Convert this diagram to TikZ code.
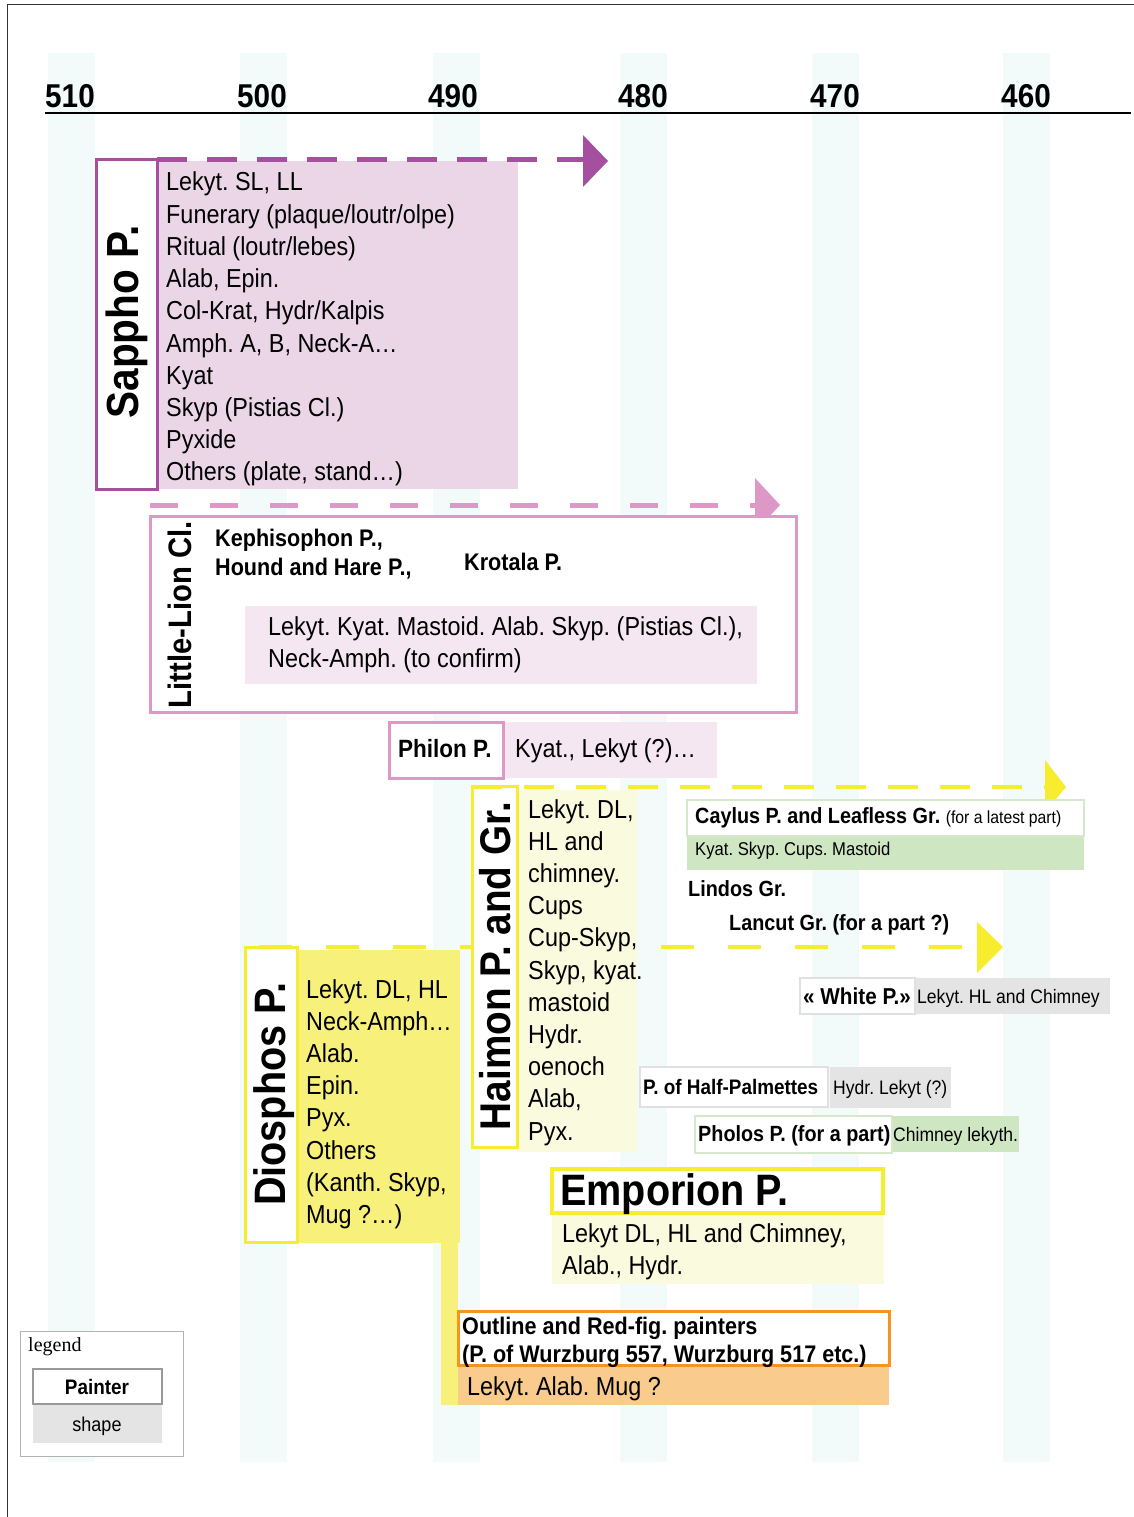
\documentclass[tikz,border=0pt]{standalone}
\usepackage{fontspec}
\setmainfont{Liberation Sans}
\newfontfamily\nar[FakeStretch=0.9]{Liberation Sans}
\newfontfamily\serifleg{Liberation Serif}
\newcommand\setfs[1]{\fontsize{#1}{#1}\selectfont}
\frenchspacing
\definecolor{stripe}{HTML}{F3FAFA}
\definecolor{purp}{HTML}{A54F9F}
\definecolor{pinkfill}{HTML}{EBD6E8}
\definecolor{pinkl}{HTML}{DE98C7}
\definecolor{pinklight}{HTML}{F4E7F1}
\definecolor{yel}{HTML}{F7EC2E}
\definecolor{yelfill}{HTML}{F7F07B}
\definecolor{yellight}{HTML}{FAFADF}
\definecolor{grnl}{HTML}{D5E8CB}
\definecolor{grnfill}{HTML}{CFE6C3}
\definecolor{gryl}{HTML}{E0E0E0}
\definecolor{gryfill}{HTML}{E4E4E4}
\definecolor{orgl}{HTML}{F7941D}
\definecolor{orgfill}{HTML}{F9CB8C}
\begin{document}
\frenchspacing
\begin{tikzpicture}[x=1pt,y=-1pt,
  body/.style={inner sep=0, anchor=base west, font=\nar\frenchspacing\setfs{26}},
  bl/.style={inner sep=0, anchor=base west, font=\nar\frenchspacing\bfseries\setfs{24}},
  sm/.style={inner sep=0, anchor=base west, font=\nar\frenchspacing\setfs{19.5}},
  smb/.style={inner sep=0, anchor=base west, font=\nar\frenchspacing\bfseries\setfs{22}},
  vtitle/.style={inner sep=0, anchor=base, rotate=90},
  yr/.style={inner sep=0, anchor=base, font=\nar\bfseries\setfs{33}},
  dline/.style={line width=5, dash pattern=on 30 off 20},
]
\useasboundingbox (0,0) rectangle (1134,1517);
% frame
\draw[black!80, line width=1] (7,1517) -- (7,5) -- (1134,5);
% stripes
\foreach \sx in {48,240,433,620,812,1003}
  \fill[stripe] (\sx,53) rectangle ++(47,1409);
% axis
\draw[black, line width=2] (45,113) -- (1131,113);
\foreach \yv/\xv [count=\k] in {510/70,500/262,490/453,480/643,470/835,460/1026}
  \node[yr] (yr\k) at (\xv,108) {\yv};

% ---------- Sappho
\fill[pinkfill] (157,161) rectangle (518,489);
\draw[purp, line width=3, fill=white] (96,160) rectangle (157,489);
\draw[purp, dline] (157,160) -- (583,160);
\fill[purp] (583,135) -- (608,161) -- (583,187) -- cycle;
\node[vtitle, font=\nar\bfseries\setfs{45}] (sappho) at (138,322) {Sappho P.};
\foreach \t [count=\i from 0] in {{Lekyt. SL, LL},{Funerary (plaque/loutr/olpe)},{Ritual (loutr/lebes)},{Alab, Epin.},{Col-Krat, Hydr/Kalpis},{Amph. A, B, Neck-A…},{Kyat},{Skyp (Pistias Cl.)},{Pyxide},{Others (plate, stand…)}}
  \node[body] (sap\i) at (166,{191+32.2*\i}) {\t};

% ---------- Little-Lion
\draw[pinkl, dline, dash pattern=on 28 off 32] (150,505) -- (755,505);
\fill[pinkl] (755,478) -- (780,505) -- (755,532) -- cycle;
\draw[pinkl, line width=3, fill=white] (150,516) rectangle (796,712);
\fill[pinklight] (245,606) rectangle (757,684);
\node[vtitle, font=\nar\bfseries\setfs{32.5}] (lion) at (191,615) {Little-Lion Cl.};
\node[bl] (keph) at (215,546.5) {Kephisophon P.,};
\node[bl] (hound) at (215,575.5) {Hound and Hare P.,};
\node[bl] (krot) at (464,570.5) {Krotala P.};
\node[body] (lion1) at (268,635) {Lekyt. Kyat. Mastoid. Alab. Skyp. (Pistias Cl.),};
\node[body] (lion2) at (268,667) {Neck-Amph. (to confirm)};

% ---------- Philon
\fill[pinklight] (503,722) rectangle (717,778);
\draw[pinkl, line width=3, fill=white] (389,722) rectangle (503,778);
\node[bl, font=\nar\bfseries\setfs{25}] (philon) at (398,757) {Philon P.};
\node[body] (philon1) at (515,757) {Kyat., Lekyt (?)…};

% ---------- Diosphos
\fill[yelfill] (297,950) rectangle (460,1243);
\fill[yelfill] (441,1243) rectangle (458,1405);
\draw[yel, line width=3, fill=white] (245,947) rectangle (297,1242);
\draw[yel, line width=4, dash pattern=on 33 off 34, dash phase=-14] (245,947) -- (978,947);
\fill[yel] (977,922) -- (1003,947) -- (977,973) -- cycle;
\node[vtitle, font=\nar\bfseries\setfs{44}] (diosphos) at (285,1094) {Diosphos P.};
\foreach \t [count=\i from 0] in {{Lekyt. DL, HL},{Neck-Amph…},{Alab.},{Epin.},{Pyx.},{Others},{(Kanth. Skyp,},{Mug ?…)}}
  \node[body] (dio\i) at (306,{998+32.2*\i}) {\t};

% ---------- Haimon
\fill[yellight] (517,790) rectangle (637,1152);
\draw[yel, line width=3, fill=white] (472,786) rectangle (517,1147);
\draw[yel, line width=4, dash pattern=on 30 off 22] (472,787) -- (1045,787);
\fill[yel] (1045,760) -- (1066,787) -- (1045,812) -- cycle;
\node[vtitle, font=\nar\bfseries\setfs{43}] (haimon) at (510,966) {Haimon P. and Gr.};
\foreach \t [count=\i from 0] in {{Lekyt. DL,},{HL and},{chimney.},{Cups},{Cup-Skyp,},{Skyp, kyat.},{mastoid},{Hydr.},{oenoch},{Alab,},{Pyx.}}
  \node[body] (hai\i) at (528,{818+32.2*\i}) {\t};

% ---------- Caylus
\fill[grnfill] (687,836) rectangle (1084,870);
\draw[grnl, line width=2, fill=white] (687,800) rectangle (1084,836);
\node[smb] (caylus) at (695,823) {Caylus P. and Leafless Gr. {\mdseries\setfs{17.5}(for a latest part)}};
\node[sm, font=\nar\frenchspacing\setfs{18.5}] (caylus1) at (695,855.5) {Kyat. Skyp. Cups. Mastoid};
\node[smb] (lindos) at (688,896) {Lindos Gr.};
\node[smb] (lancut) at (729,930) {Lancut Gr. (for a part ?)};

% ---------- White P.
\fill[gryfill] (915,978) rectangle (1110,1014);
\draw[gryl, line width=2, fill=white] (800,978) rectangle (915,1014);
\node[smb, font=\nar\frenchspacing\bfseries\setfs{23}] (white) at (803,1004) {« White P.»};
\node[sm] (white1) at (917,1003) {Lekyt. HL and Chimney};

% ---------- Half-Palmettes
\fill[gryfill] (830,1067) rectangle (951,1108);
\draw[gryl, line width=2, fill=white] (640,1067) rectangle (828,1107);
\node[smb, font=\nar\frenchspacing\bfseries\setfs{21}] (half) at (643,1094.5) {P. of Half-Palmettes};
\node[sm] (half1) at (833,1094) {Hydr. Lekyt (?)};

% ---------- Pholos
\fill[grnfill] (892,1116) rectangle (1019,1152);
\draw[grnl, line width=2, fill=white] (695,1116) rectangle (892,1153);
\node[smb] (pholos) at (698,1141) {Pholos P. (for a part)};
\node[sm] (pholos1) at (893,1141) {Chimney lekyth.};

% ---------- Emporion
\fill[yellight] (552,1215) rectangle (884,1284);
\draw[yel, line width=4, fill=white] (552,1169) rectangle (883,1213);
\node[bl, font=\nar\bfseries\setfs{44}] (emporion) at (560,1205) {Emporion P.};
\node[body] (emp1) at (562,1242) {Lekyt DL, HL and Chimney,};
\node[body] (emp2) at (562,1274) {Alab., Hydr.};

% ---------- Outline and Red-fig.
\fill[orgfill] (458,1365) rectangle (889,1405);
\draw[orgl, line width=3, fill=white] (458,1311) rectangle (889,1365);
\node[bl] (outline1) at (462,1334.5) {Outline and Red-fig. painters};
\node[bl] (outline2) at (462,1362.5) {(P. of Wurzburg 557, Wurzburg 517 etc.)};
\node[body] (outline3) at (467,1395) {Lekyt. Alab. Mug ?};

% ---------- legend
\draw[black!30, line width=1, fill=white] (20,1331) rectangle (183,1456);
\node[inner sep=0, anchor=base west, font=\serifleg\setfs{20}] (legend) at (28,1351) {legend};
\fill[gryfill] (33,1405) rectangle (162,1443);
\draw[black!40, line width=2.5, fill=white] (33,1369) rectangle (162,1404);
\node[inner sep=0, anchor=base, font=\nar\bfseries\setfs{21}] (painter) at (97,1394) {Painter};
\node[inner sep=0, anchor=base, font=\nar\setfs{20}] (shape) at (97,1431) {shape};
\end{tikzpicture}
\end{document}
